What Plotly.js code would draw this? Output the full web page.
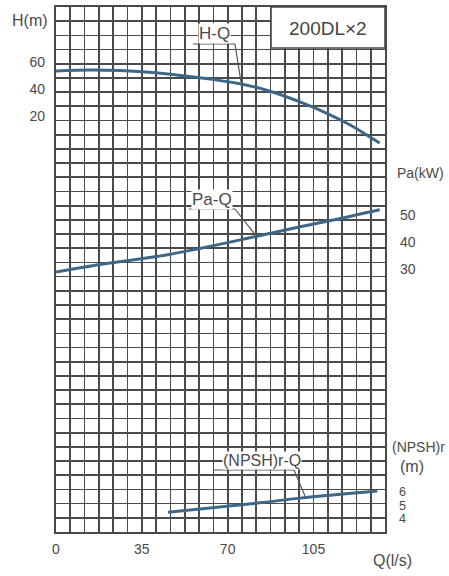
<!DOCTYPE html>
<html>
<head>
<meta charset="utf-8">
<script src="https://cdn.plot.ly/plotly-3.0.1.min.js"></script>
<style>html,body{margin:0;padding:0;background:#fff;}#chart{width:449px;height:576px;}</style>
</head>
<body>
<div id="chart"></div>
<script>
// ---- data ----
const qH = [0, 14, 26, 38, 50, 62, 75, 87, 99.5, 112, 120, 128, 132];
const headH = [53.3, 54.0, 53.6, 52.3, 50.2, 47.5, 43.9, 38.5, 30.4, 20.7, 13.3, 4.4, 0];
const qPa = [0, 22, 45, 81, 99.5, 113, 132];
const powerPa = [28.9, 32.2, 35.2, 41.9, 45.6, 48.1, 51.9];
const qNpsh = [45.7, 83, 99.5, 131];
const npsh = [4.5, 5.2, 5.55, 6.07];
const xTickLabels = ['0', '35', '70', '105'];
const hTicks = [20, 40, 60];
const paTicks = [30, 40, 50];
const npshTicks = [4, 5, 6];

// ---- layout geometry ----
const W = 449, H = 576;
const L = 56, R = 385, T = 7, B = 532;
const px = x => (x - L) / (R - L);
const py = y => (B - y) / (B - T);
const nCols = 23, nRows = 37, colStep = 35 / 6;

const xVals = [], xText = [];
for (let i = 0; i <= nCols; i++) {
  xVals.push(i * colStep);
  xText.push(i % 6 === 0 ? xTickLabels[i / 6] : '');
}
const yVals = [];
for (let i = 0; i <= nRows; i++) yVals.push(i);

const gridCol = '#4a4a4a';
const curveCol = '#3d6789';
const txtCol = '#4a4a4a';
const fontFam = 'Liberation Sans, Arial, sans-serif';

const traces = [
  {x: [], y: [], xaxis: 'x', yaxis: 'y', showlegend: false, hoverinfo: 'skip'},
  {x: qH, y: headH, xaxis: 'x', yaxis: 'y2', mode: 'lines', line: {color: curveCol, width: 3, shape: 'spline'}, showlegend: false},
  {x: qPa, y: powerPa, xaxis: 'x', yaxis: 'y3', mode: 'lines', line: {color: curveCol, width: 3, shape: 'spline'}, showlegend: false},
  {x: qNpsh, y: npsh, xaxis: 'x', yaxis: 'y4', mode: 'lines', line: {color: curveCol, width: 3, shape: 'spline'}, showlegend: false}
];

const tickFont = {family: fontFam, size: 14, color: txtCol};

function label(text, x, y, size, extra) {
  return Object.assign({text: text, xref: 'paper', yref: 'paper', x: px(x), y: py(y),
    xanchor: 'center', yanchor: 'middle', showarrow: false,
    font: {family: fontFam, size: size, color: txtCol}}, extra || {});
}
function seg(x0, y0, x1, y1) {
  return {type: 'line', xref: 'paper', yref: 'paper', x0: px(x0), x1: px(x1), y0: py(y0), y1: py(y1),
    line: {color: '#555', width: 1.2}};
}

const layout = {
  width: W, height: H,
  margin: {l: L, r: W - R, t: T, b: H - B},
  paper_bgcolor: '#fff', plot_bgcolor: '#fff',
  showlegend: false,
  xaxis: {
    range: [0, nCols * colStep], tickmode: 'array', tickvals: xVals, ticktext: xText,
    showgrid: true, gridcolor: gridCol, gridwidth: 1.7, zeroline: false,
    showline: true, linecolor: gridCol, linewidth: 1.8, mirror: true,
    ticks: '', tickfont: tickFont, ticklabelstandoff: 3, fixedrange: true
  },
  yaxis: {
    range: [0, nRows], tickmode: 'array', tickvals: yVals, showticklabels: false,
    showgrid: true, gridcolor: gridCol, gridwidth: 1.7, zeroline: false,
    showline: true, linecolor: gridCol, linewidth: 1.8, mirror: true, ticks: '', fixedrange: true
  },
  yaxis2: {
    overlaying: 'y', side: 'left', range: [-288.1, 100.7], tickmode: 'array', tickvals: hTicks,
    showgrid: false, zeroline: false, showline: false, ticks: '', tickfont: tickFont, ticklabelstandoff: 10
  },
  yaxis3: {
    overlaying: 'y', side: 'right', range: [-67.4, 127.0], tickmode: 'array', tickvals: paTicks,
    showgrid: false, zeroline: false, showline: false, ticks: '', tickfont: tickFont, ticklabelstandoff: 14
  },
  yaxis4: {
    overlaying: 'y', side: 'right', range: [3.04, 41.93], tickmode: 'array', tickvals: npshTicks,
    showgrid: false, zeroline: false, showline: false, ticks: '',
    tickfont: {family: fontFam, size: 12.5, color: txtCol}, ticklabelstandoff: 13
  },
  shapes: [
    {type: 'rect', xref: 'paper', yref: 'paper', x0: px(271), x1: px(385), y0: py(48), y1: py(7),
      fillcolor: '#fff', line: {color: gridCol, width: 1.6}, layer: 'above'},
    seg(193, 44, 235, 44), seg(235, 44, 241, 82),
    seg(189, 209, 235, 209), seg(235, 209, 257, 237),
    seg(214, 470, 294, 470), seg(294, 470, 305, 496)
  ],
  annotations: [
    label('200DL×2', 328, 29, 19, {font: {family: fontFam, size: 19, color: '#444'}}),
    label('H-Q', 214, 33, 17, {bgcolor: '#fff', borderpad: 0}),
    label('Pa-Q', 212, 199, 17, {bgcolor: '#fff', borderpad: 0}),
    label('(NPSH)r-Q', 262, 460, 16, {bgcolor: '#fff', borderpad: 0}),
    label('H(m)', 30, 20, 16),
    label('Pa(kW)', 420, 173, 14),
    label('(NPSH)r', 418, 447, 14),
    label('(m)', 412, 466, 16),
    label('Q(l/s)', 392, 560, 16)
  ]
};

Plotly.newPlot('chart', traces, layout, {displayModeBar: false, staticPlot: true});
</script>
</body>
</html>
